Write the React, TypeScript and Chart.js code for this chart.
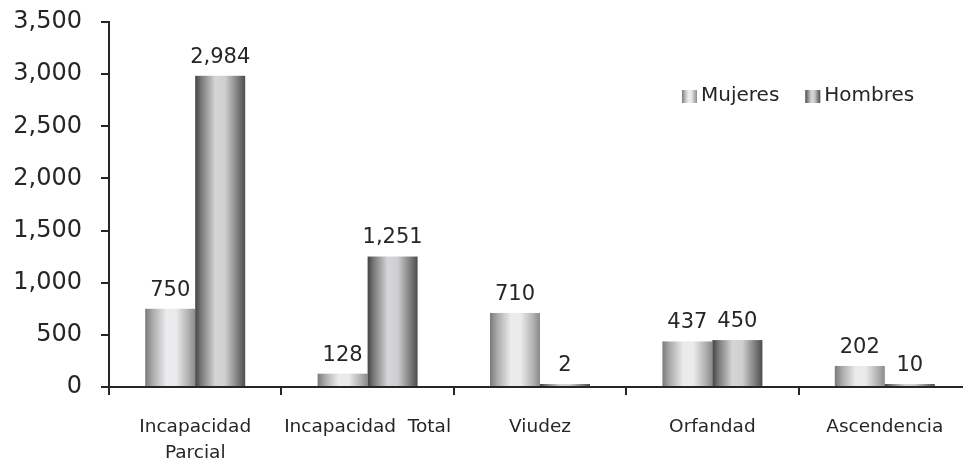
import React, { useEffect, useRef } from "react";
import { Chart, registerables } from "chart.js";

Chart.register(...registerables);

const categories: (string | string[])[] = [
  ["Incapacidad", "Parcial"],
  "Incapacidad  Total",
  "Viudez",
  "Orfandad",
  "Ascendencia",
];
const seriesNames = ["Mujeres", "Hombres"];
const mujeres = [750, 128, 710, 437, 202];
const hombres = [2984, 1251, 2, 450, 10];
const yMin = 0;
const yMax = 3500;
const yStep = 500;

const FONT = '"DejaVu Sans", sans-serif';
const TEXT = "#262626";

const gradStops: [number, string][][] = [
  [
    [0, "#7a7a7a"],
    [0.15, "#ababab"],
    [0.42, "#ececee"],
    [0.62, "#eaeaec"],
    [0.85, "#b4b4b4"],
    [1, "#8a8a8a"],
  ],
  [
    [0, "#434343"],
    [0.12, "#787878"],
    [0.4, "#d5d5d7"],
    [0.6, "#cfcfd1"],
    [0.85, "#7e7e7e"],
    [1, "#4c4c4c"],
  ],
];

function makeGrad(ctx: CanvasRenderingContext2D, left: number, width: number, idx: number) {
  const g = ctx.createLinearGradient(left, 0, left + width, 0);
  for (const [o, c] of gradStops[idx]) g.addColorStop(o, c);
  return g;
}

const barPaint = {
  id: "barPaint",
  afterDatasetsDraw(chart: any) {
    const ctx: CanvasRenderingContext2D = chart.ctx;
    ctx.save();
    chart.data.datasets.forEach((ds: any, di: number) => {
      const meta = chart.getDatasetMeta(di);
      meta.data.forEach((el: any) => {
        const { x, y, base, width } = el.getProps(["x", "y", "base", "width"], true);
        const left = x - width / 2;
        ctx.fillStyle = makeGrad(ctx, left, width, di);
        ctx.fillRect(left, Math.min(y, base), width, Math.abs(base - y));
      });
    });
    ctx.font = `21px ${FONT}`;
    ctx.fillStyle = TEXT;
    ctx.textAlign = "center";
    ctx.textBaseline = "bottom";
    chart.data.datasets.forEach((ds: any, di: number) => {
      const meta = chart.getDatasetMeta(di);
      meta.data.forEach((el: any, i: number) => {
        const { x, y } = el.getProps(["x", "y"], true);
        const v = ds.data[i] as number;
        ctx.fillText(v.toLocaleString("en-US"), x, y - 8);
      });
    });
    ctx.restore();
  },
  afterDraw(chart: any) {
    const ctx: CanvasRenderingContext2D = chart.ctx;
    const area = chart.chartArea;
    ctx.save();
    ctx.font = `20px ${FONT}`;
    ctx.textBaseline = "middle";
    ctx.textAlign = "left";
    let x = area.right - 289;
    const cy = 96;
    seriesNames.forEach((name, i) => {
      ctx.fillStyle = makeGrad(ctx, x, 15, i);
      ctx.fillRect(x, cy - 6, 15, 13);
      ctx.fillStyle = TEXT;
      ctx.fillText(name, x + 19, cy);
      x += 19 + ctx.measureText(name).width + 26;
    });
    ctx.restore();
  },
};

export default function App() {
  const ref = useRef<HTMLCanvasElement | null>(null);
  useEffect(() => {
    if (!ref.current) return;
    const chart = new Chart(ref.current, {
      type: "bar",
      data: {
        labels: categories,
        datasets: [
          { label: seriesNames[0], data: mujeres, backgroundColor: "rgba(0,0,0,0)", borderWidth: 0, minBarLength: 3 },
          { label: seriesNames[1], data: hombres, backgroundColor: "rgba(0,0,0,0)", borderWidth: 0, minBarLength: 3 },
        ],
      },
      options: {
        animation: false,
        responsive: false,
        layout: { padding: { top: 22, right: 0, left: 0, bottom: 0 } },
        datasets: { bar: { categoryPercentage: 0.58, barPercentage: 1.0 } },
        plugins: { legend: { display: false }, tooltip: { enabled: false } },
        scales: {
          x: {
            z: 1,
            grid: { offset: true, drawOnChartArea: false, drawTicks: true, tickLength: 8, color: TEXT, lineWidth: 2 },
            border: { display: true, color: TEXT, width: 2 },
            ticks: {
              font: { family: FONT, size: 18.5, lineHeight: 1.4 },
              color: TEXT,
              padding: 19,
              maxRotation: 0,
              autoSkip: false,
            },
            afterFit(scale: any) {
              scale.height = 73;
              scale.paddingLeft = 0;
              scale.paddingRight = 0;
            },
          },
          y: {
            min: yMin,
            max: yMax,
            grid: { drawOnChartArea: false, drawTicks: true, tickLength: 8, color: TEXT, lineWidth: 2 },
            border: { display: true, color: TEXT, width: 2 },
            ticks: {
              stepSize: yStep,
              font: { family: FONT, size: 24 },
              color: TEXT,
              padding: 19,
              callback: (v: any) => Number(v).toLocaleString("en-US"),
            },
            afterFit(scale: any) {
              scale.width = 109;
              scale.paddingTop = 0;
              scale.paddingBottom = 0;
            },
          },
        },
      },
      plugins: [barPaint],
    });
    return () => chart.destroy();
  }, []);
  return (
    <div style={{ position: "absolute", left: 0, top: 0, width: 963, height: 460, overflow: "hidden", background: "#fff" }}>
      <canvas ref={ref} width={971} height={460} style={{ width: 971, height: 460, display: "block" }} />
    </div>
  );
}
